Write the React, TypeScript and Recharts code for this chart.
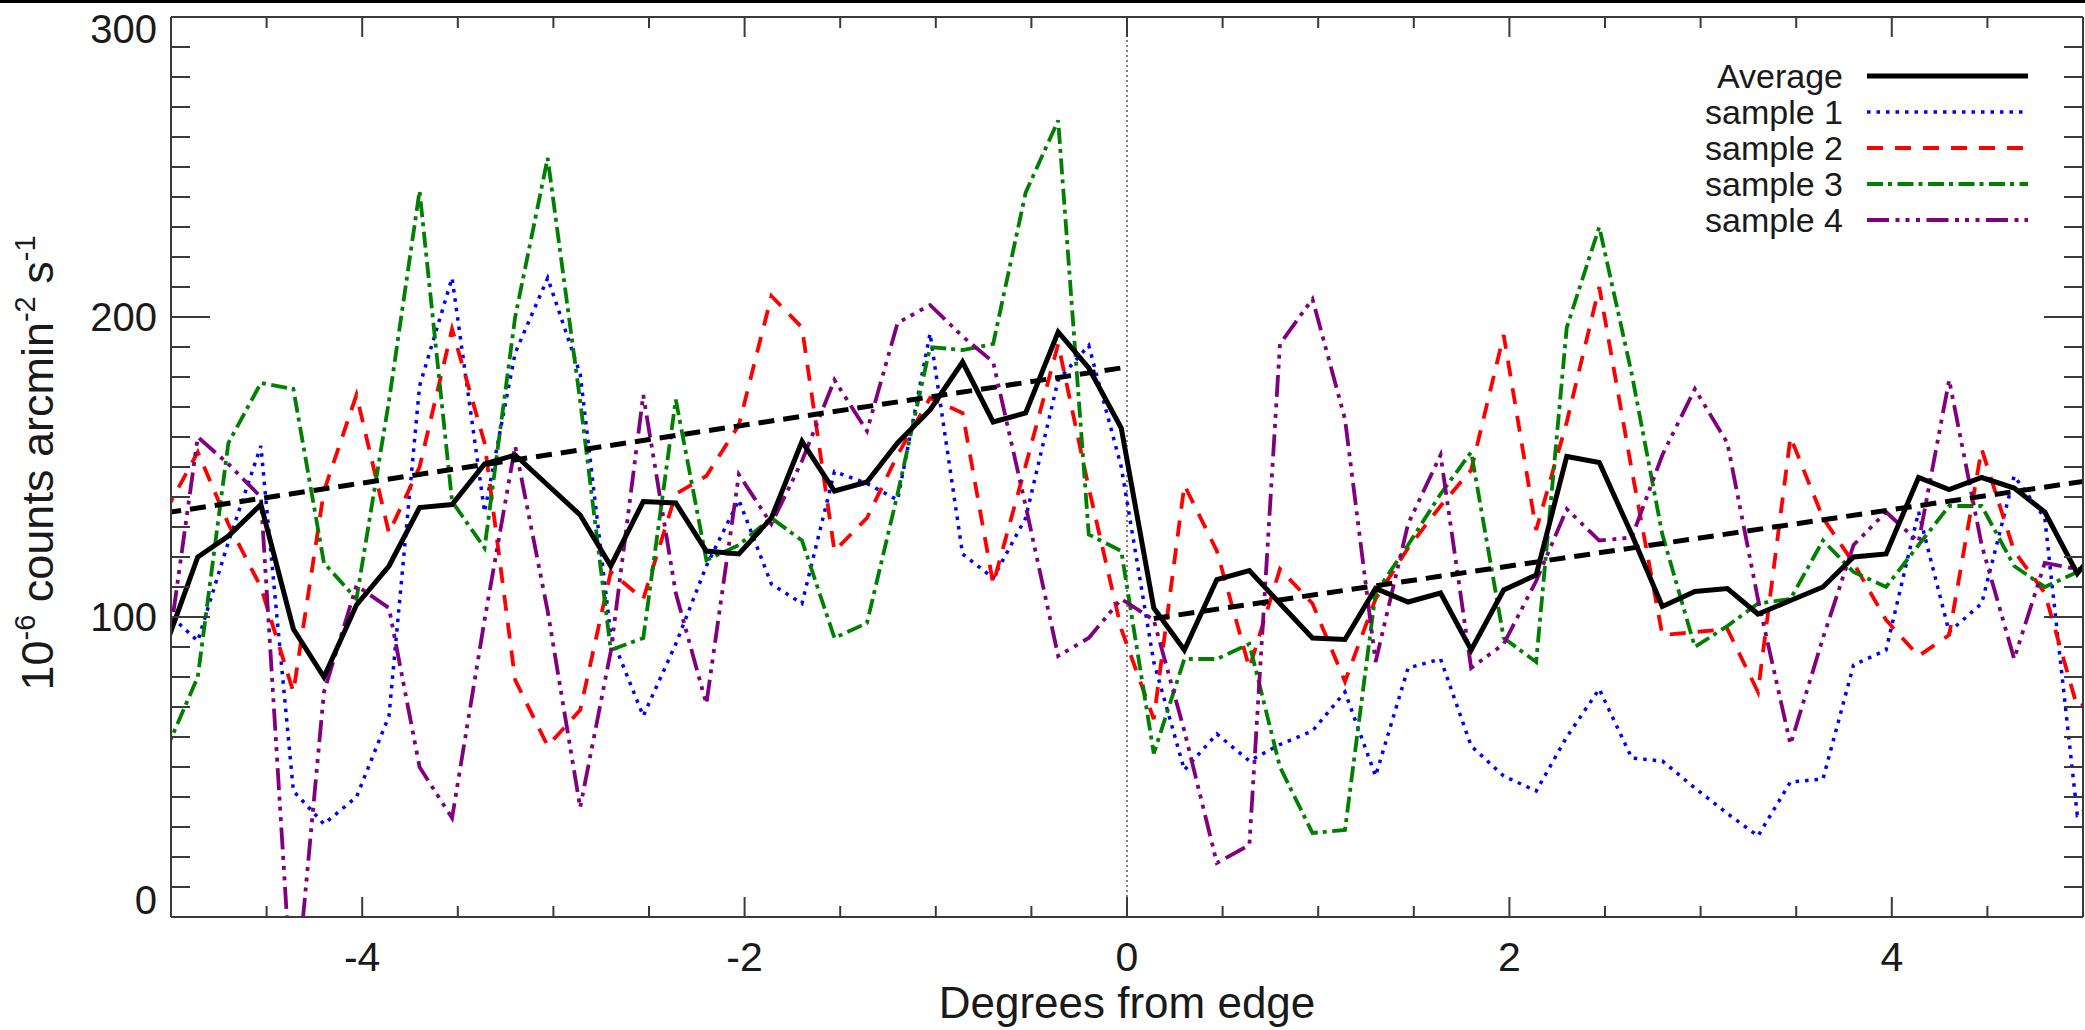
import React from 'react';
import { LineChart, Line, XAxis, YAxis, ReferenceLine, Legend, Label } from 'recharts';

const FONT = '"Liberation Sans", Arial, Helvetica, sans-serif';

// x positions of the profile bins (degrees from edge)
const degrees = [
  -5.03, -4.86, -4.70, -4.53, -4.36, -4.20, -4.03, -3.86, -3.70, -3.53,
  -3.36, -3.20, -3.03, -2.86, -2.70, -2.53, -2.36, -2.20, -2.03, -1.86,
  -1.70, -1.53, -1.36, -1.20, -1.03, -0.86, -0.70, -0.53, -0.36, -0.20,
  -0.03, 0.14, 0.30, 0.47, 0.64, 0.80, 0.97, 1.14, 1.30, 1.47,
  1.64, 1.80, 1.97, 2.14, 2.30, 2.47, 2.64, 2.80, 2.97, 3.14,
  3.30, 3.47, 3.64, 3.80, 3.97, 4.14, 4.30, 4.47, 4.64, 4.80,
  4.97, 5.14,
];

const average = [
  90, 120, 127, 137.5, 96, 80, 104, 117, 136.5, 137.5,
  151, 154, 144, 134, 117, 138.5, 138, 122, 121, 133,
  158.5, 142, 145, 158, 169, 185, 165, 168, 195, 183,
  163, 103, 89, 112.5, 115.5, 104.5, 93, 92.5, 109.5, 105,
  108, 89, 109, 114, 153.5, 151.5, 127.5, 103.5, 108.5, 109.5,
  101, 105.5, 110, 120, 121, 146.5, 142.5, 146.5, 143, 135,
  114.5, 128,
];

const sample1 = [
  102, 92, 125, 157, 42, 31, 40, 67, 177, 213,
  135, 188, 213, 181, 94, 67, 91, 117, 139, 111,
  104.5, 148.5, 144.5, 139, 194.5, 121, 113, 133, 179, 190.5,
  150, 85, 49, 61, 52, 57.5, 62, 75, 47, 83,
  86, 57, 47, 42, 60, 76, 53, 52, 43, 34.5,
  27, 45, 46, 84, 89, 135, 95, 104.5, 147, 133,
  34, 41,
];

const sample2 = [
  135, 155, 131, 110, 75, 142, 174, 128, 150, 196,
  158, 79, 57, 69, 115, 106, 141, 147, 164, 207,
  196.5, 122, 133, 154, 173, 168, 111, 150.5, 191, 143,
  96, 66, 144, 122, 83, 116, 104.5, 78.5, 106, 123,
  137, 149, 194, 129, 165, 210, 149, 94, 95, 96,
  75, 160, 133, 118, 99, 87, 94, 156, 122, 108,
  70, 74,
];

const sample3 = [
  55, 80, 158, 178, 176, 118, 106, 172, 242, 138.5,
  123, 200, 253, 172, 89, 93, 172.5, 119, 124, 133,
  125.5, 93, 98, 141, 190, 189, 191, 241.5, 265.5, 127.5,
  122, 54.5, 86, 86, 91, 50, 28, 29, 108, 124,
  141, 155, 93, 85, 196.5, 230, 181, 127.5, 90, 97,
  104.5, 106, 125.5, 115, 110, 124, 137, 137, 117, 110,
  115, 118,
];

const sample4 = [
  82, 160, 151, 140, -35, 75, 110.5, 103, 50, 33,
  99, 157, 102, 36.5, 88.5, 174, 108, 71, 147.5, 131,
  152, 179, 162, 198, 204, 193.5, 185, 137, 87, 93,
  106, 99, 62, 18, 24, 191, 206, 166, 85, 131,
  154, 83, 91, 112, 136, 125.5, 126.5, 154, 176, 158,
  106, 57.5, 93, 124, 135, 125, 179, 124, 86, 118,
  116, 116,
];

// linear fits on either side of the edge
const fitInsideX = [-5.03, -0.03];
const fitInsideY = [134.7, 183];
const fitOutsideX = [0.14, 5.14];
const fitOutsideY = [99.5, 146.5];

const xTicks = [-5, -4.5, -4, -3.5, -3, -2.5, -2, -1.5, -1, -0.5, 0, 0.5, 1, 1.5, 2, 2.5, 3, 3.5, 4, 4.5, 5];
const xLabelTicks = [-4, -2, 0, 2, 4];
const yTicks = [
  0, 10, 20, 30, 40, 50, 60, 70, 80, 90, 100, 110, 120, 130, 140, 150, 160, 170, 180, 190,
  200, 210, 220, 230, 240, 250, 260, 270, 280, 290, 300,
];
const yLabelTicks = [0, 100, 200, 300];

const seriesNames = ['Average', 'sample 1', 'sample 2', 'sample 3', 'sample 4'];
const seriesKeys = ['avg', 's1', 's2', 's3', 's4'];
const seriesColors = ['#000000', '#0000ff', '#ff0000', '#008000', '#800080'];
const seriesDashes = [undefined, '3.5 6', '16 12', '16 5 4 5.5', '22 6.5 4 6 4 6.5 4 6.5'];
const seriesWidths = [5, 3.5, 3.8, 3.8, 3.8];

const data = degrees.map((x, i) => ({
  x,
  avg: average[i],
  s1: sample1[i],
  s2: sample2[i],
  s3: sample3[i],
  s4: sample4[i],
}));
const fitInside = fitInsideX.map((x, i) => ({ x, fit: fitInsideY[i] }));
const fitOutside = fitOutsideX.map((x, i) => ({ x, fit: fitOutsideY[i] }));

const AX = '#3a3a3a';
const TXT = '#1a1a1a';

function BottomTick(props: any) {
  const { x, y, payload } = props;
  const v = payload.value;
  const major = xLabelTicks.includes(v);
  return (
    <g>
      <line x1={x} y1={y} x2={x} y2={y - (major ? 20 : 11)} stroke={AX} strokeWidth={2} />
      {major && (
        <text x={x} y={y + 54} textAnchor="middle" fontSize={41} fontFamily={FONT} fill={TXT}>
          {String(v)}
        </text>
      )}
    </g>
  );
}

function TopTick(props: any) {
  const { x, y, payload } = props;
  const major = xLabelTicks.includes(payload.value);
  return <line x1={x} y1={y} x2={x} y2={y + (major ? 20 : 11)} stroke={AX} strokeWidth={2} />;
}

function LeftTick(props: any) {
  const { x, y, payload } = props;
  const v = payload.value;
  const major = yLabelTicks.includes(v);
  const dy = v === 300 ? 26 : v === 0 ? -3 : 14;
  return (
    <g>
      <line x1={x} y1={y} x2={x + (major ? 39 : 19)} y2={y} stroke={AX} strokeWidth={2} />
      {major && (
        <text x={x - 14} y={y + dy} textAnchor="end" fontSize={40} fontFamily={FONT} fill={TXT}>
          {String(v)}
        </text>
      )}
    </g>
  );
}

function RightTick(props: any) {
  const { x, y, payload } = props;
  const major = yLabelTicks.includes(payload.value);
  return <line x1={x} y1={y} x2={x - (major ? 39 : 19)} y2={y} stroke={AX} strokeWidth={2} />;
}

function YTitle() {
  return (
    <text
      transform="translate(53,463) rotate(-90)"
      textAnchor="middle"
      fontSize={45}
      fontFamily={FONT}
      fill={TXT}
    >
      <tspan>10</tspan>
      <tspan fontSize={29} dy={-18}>-6</tspan>
      <tspan dy={18}> counts arcmin</tspan>
      <tspan fontSize={29} dy={-18}>-2</tspan>
      <tspan dy={18}> s</tspan>
      <tspan fontSize={29} dy={-18}>-1</tspan>
    </text>
  );
}

function XTitle() {
  return (
    <text x={1127} y={1018} textAnchor="middle" fontSize={44} fontFamily={FONT} fill={TXT}>
      Degrees from edge
    </text>
  );
}

function LegendBox() {
  return (
    <svg width={360} height={210} style={{ display: 'block', overflow: 'visible' }}>
      {seriesNames.map((name, i) => {
        const cy = 36 + i * 36;
        return (
          <g key={name}>
            <text x={143} y={cy + 12} textAnchor="end" fontSize={34} fontFamily={FONT} fill={TXT}>
              {name}
            </text>
            <line
              x1={167}
              y1={cy}
              x2={328}
              y2={cy}
              stroke={seriesColors[i]}
              strokeWidth={seriesWidths[i]}
              strokeDasharray={seriesDashes[i]}
            />
          </g>
        );
      })}
    </svg>
  );
}

export default function App() {
  const order = [1, 2, 3, 4, 0];
  return (
    <div style={{ position: 'absolute', left: 0, top: 0, width: 2085, height: 1030, background: '#ffffff' }}>
      <LineChart
        width={2085}
        height={1030}
        data={data}
        margin={{ top: 16, right: 1, bottom: 112, left: 170 }}
      >
        <XAxis
          type="number"
          dataKey="x"
          domain={[-5, 5]}
          allowDataOverflow
          ticks={xTicks}
          interval={0}
          height={1}
          tickSize={0}
          tickMargin={0}
          tickLine={false}
          axisLine={{ stroke: AX, strokeWidth: 2 }}
          tick={(p: any) => <BottomTick {...p} />}
        >
          <Label content={<XTitle />} />
        </XAxis>
        <XAxis
          xAxisId="top"
          orientation="top"
          type="number"
          dataKey="x"
          domain={[-5, 5]}
          allowDataOverflow
          ticks={xTicks}
          interval={0}
          height={1}
          tickSize={0}
          tickMargin={0}
          tickLine={false}
          axisLine={{ stroke: AX, strokeWidth: 2 }}
          tick={(p: any) => <TopTick {...p} />}
        />
        <YAxis
          type="number"
          domain={[0, 300]}
          allowDataOverflow
          ticks={yTicks}
          interval={0}
          width={1}
          tickSize={0}
          tickMargin={0}
          tickLine={false}
          axisLine={{ stroke: AX, strokeWidth: 2 }}
          tick={(p: any) => <LeftTick {...p} />}
        >
          <Label content={<YTitle />} />
        </YAxis>
        <YAxis
          yAxisId="right"
          orientation="right"
          type="number"
          domain={[0, 300]}
          allowDataOverflow
          ticks={yTicks}
          interval={0}
          width={1}
          tickSize={0}
          tickMargin={0}
          tickLine={false}
          axisLine={{ stroke: AX, strokeWidth: 2 }}
          tick={(p: any) => <RightTick {...p} />}
        />
        <ReferenceLine x={0} stroke="#555" strokeWidth={1.5} strokeDasharray="2 3" />
        {order.map((i) => (
          <Line
            key={seriesKeys[i]}
            type="linear"
            dataKey={seriesKeys[i]}
            name={seriesNames[i]}
            stroke={seriesColors[i]}
            strokeWidth={seriesWidths[i]}
            strokeDasharray={seriesDashes[i]}
            dot={false}
            activeDot={false}
            isAnimationActive={false}
          />
        ))}
        <Line
          data={fitInside}
          type="linear"
          dataKey="fit"
          stroke="#000"
          strokeWidth={5}
          strokeDasharray="16 9"
          dot={false}
          activeDot={false}
          legendType="none"
          isAnimationActive={false}
        />
        <Line
          data={fitOutside}
          type="linear"
          dataKey="fit"
          stroke="#000"
          strokeWidth={5}
          strokeDasharray="16 9"
          dot={false}
          activeDot={false}
          legendType="none"
          isAnimationActive={false}
        />
        <Legend
          layout="horizontal"
          align="center"
          verticalAlign="middle"
          content={() => <LegendBox />}
          wrapperStyle={{ left: 1700, top: 40, width: 360, height: 210 }}
        />
      </LineChart>
      <div style={{ position: 'absolute', left: 0, top: 0, width: 2085, height: 3, background: '#000' }} />
    </div>
  );
}
